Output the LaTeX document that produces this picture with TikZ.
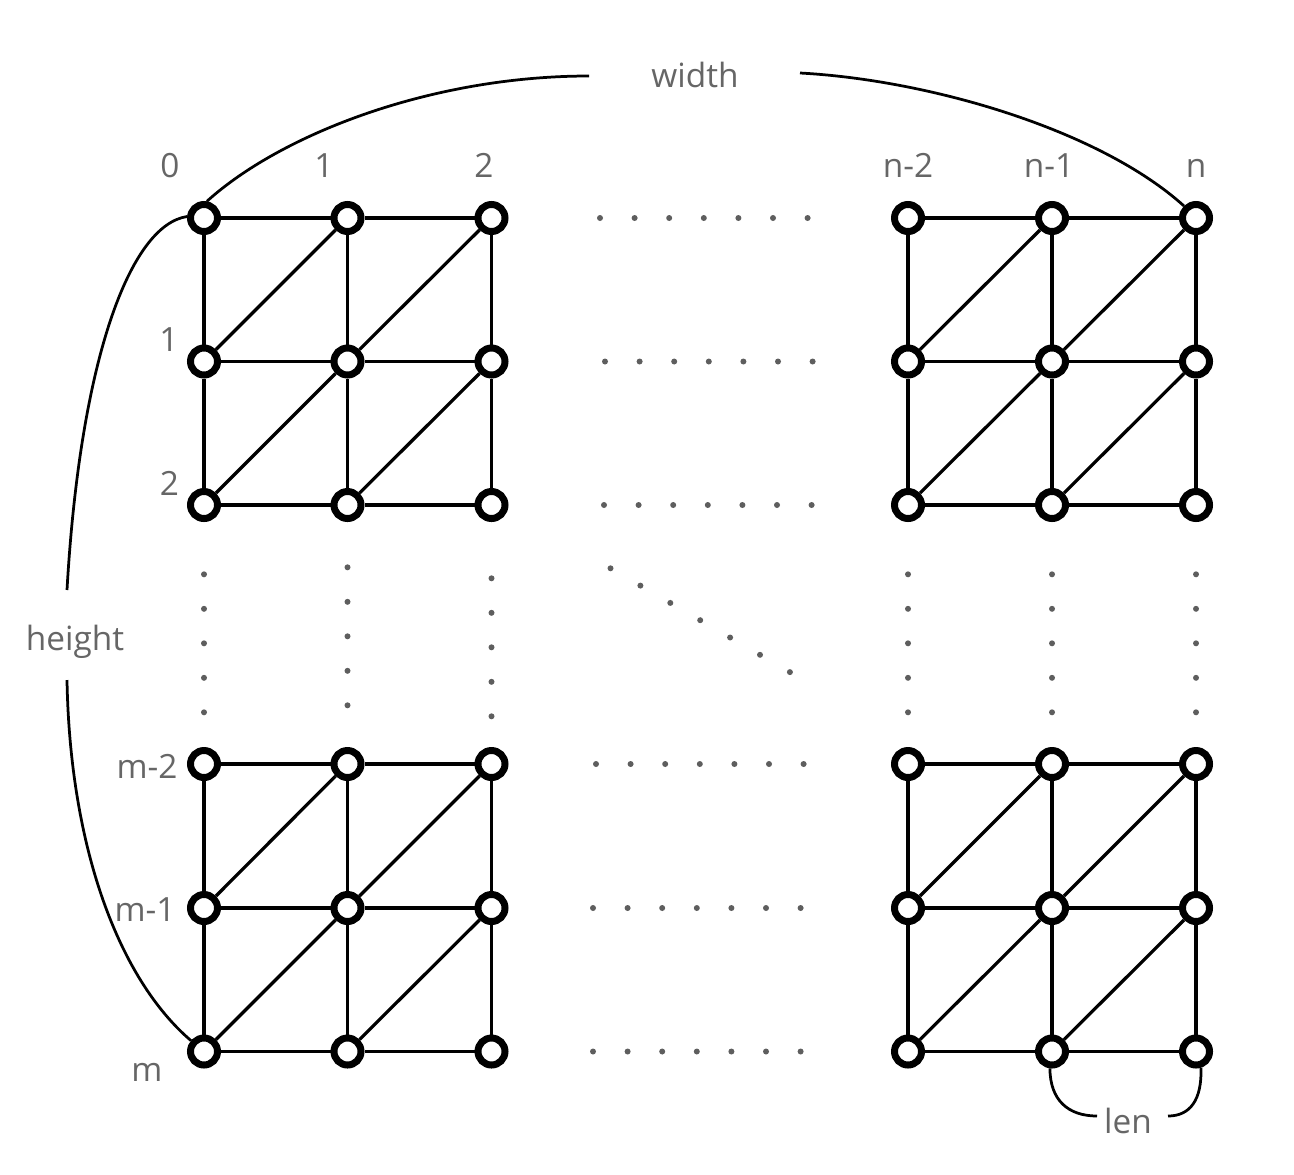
\documentclass[tikz,border=0pt]{standalone}
\usepackage{fontspec}
\setmainfont{Open Sans}
\usepackage{tikz}

\definecolor{lblgray}{HTML}{666666}
\definecolor{dotgray}{HTML}{5E5E5E}

\begin{document}
\begin{tikzpicture}[x=0.02cm, y=-0.02cm]
    \tikzstyle{vertex} = [draw, circle, line width=0.14cm, fill=white,
	minimum size=0.54cm, inner sep=0pt]
    \tikzstyle{lbl} = [text=lblgray, anchor=base, inner sep=0pt,
	font=\fontsize{19}{22}\selectfont]
    \tikzstyle{grid} = [line width=0.065cm]
    \tikzstyle{span} = [line width=0.055cm]
    \tikzstyle{spot} = [fill=dotgray]

    \useasboundingbox (0,0) rectangle (1294,1174);

	% vertices
	\foreach \c/\x in {0/204,1/347.5,2/491.5,3/908,4/1052,5/1196}
		\foreach \r/\y in {0/218,1/361.5,2/505,3/764,4/908,5/1051.5}
			\node[vertex] (v_\c_\r) at (\x,\y) {};

	% edges
	\foreach \a/\b in {0/1,1/2,3/4,4/5} {
		\foreach \r in {0,...,5}
			\draw[grid] (v_\a_\r) -- (v_\b_\r);
		\foreach \c in {0,...,5}
			\draw[grid] (v_\c_\a) -- (v_\c_\b);
		\foreach \s/\t in {0/1,1/2,3/4,4/5}
			\draw[grid] (v_\a_\t) -- (v_\b_\s);
	}

	% dots
	\foreach \x/\y in {600/218,605/361.5,604/505,596/764,593/908,593/1051.5}
		\foreach \k in {0,...,6}
			\fill[spot] (\x+34.6*\k,\y) circle (0.06cm);
	\foreach \x/\y in {204/574.3,347.5/567.3,491.5/578.3,908/574.3,1052/574.3,1196/574.3}
		\foreach \k in {0,...,4}
			\fill[spot] (\x,\y+34.5*\k) circle (0.06cm);
	\foreach \k in {0,...,6}
		\fill[spot] (610.5+29.9*\k,568.3+17.3*\k) circle (0.06cm);

	% indices
	\node[lbl] (c_0) at (170,177) {0};
	\node[lbl] (c_1) at (324,177) {1};
	\node[lbl] (c_2) at (484,177) {2};
	\node[lbl] (c_3) at (908,177) {n-2};
	\node[lbl] (c_4) at (1049,177) {n-1};
	\node[lbl] (c_5) at (1196,177) {n};
	\node[lbl] (r_1) at (169,351.5) {1};
	\node[lbl] (r_2) at (169.5,495) {2};
	\node[lbl] (r_3) at (147,778) {m-2};
	\node[lbl] (r_4) at (145,921.5) {m-1};
	\node[lbl] (r_5) at (147,1081.5) {m};

	% sizes
	\node[lbl] (width) at (695,87) {width};
	\node[lbl] (height) at (75,650) {height};
	\node[lbl] (len) at (1128,1133) {len};
	\coordinate (w_l) at (589,76);
	\coordinate (w_r) at (800,73);
	\coordinate (h_t) at (67,590);
	\coordinate (h_b) at (67,680);
	\coordinate (l_l) at (1097,1116);
	\coordinate (l_r) at (1168,1116);

	\draw[span] (v_0_0.80) .. controls (280,135) and (430,76) .. (w_l);
	\draw[span] (w_r) .. controls (930,80) and (1100,130) .. (v_5_0.135);
	\draw[span] (v_0_0.175) .. controls (130,225) and (80,360) .. (h_t);
	\draw[span] (h_b) .. controls (70,850) and (120,980) .. (v_0_5.140);
	\draw[span] (v_4_5.263) .. controls (1050,1100) and (1068,1116) .. (l_l);
	\draw[span] (l_r) .. controls (1190,1116) and (1202,1100) .. (v_5_5.287);
\end{tikzpicture}
\end{document}
